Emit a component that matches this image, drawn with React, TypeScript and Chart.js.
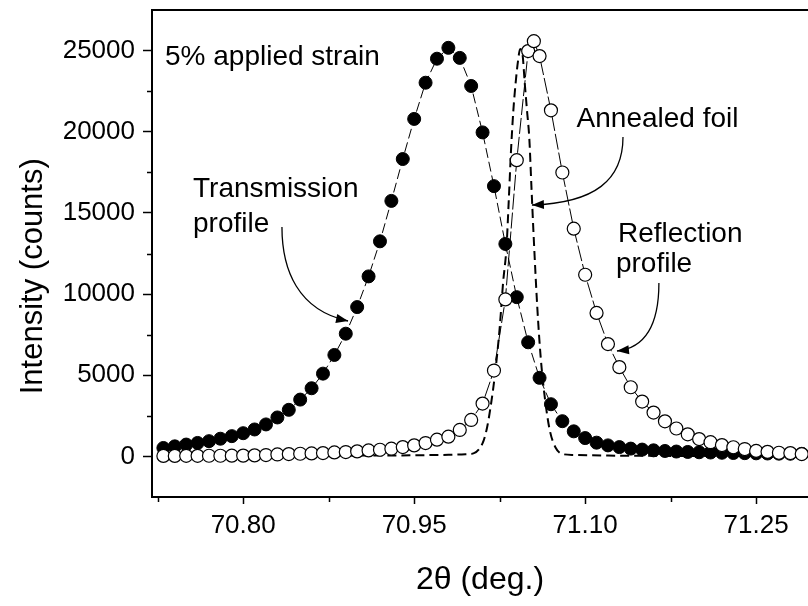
import React, { useEffect, useRef } from "react";
import { Chart, registerables } from "chart.js";
Chart.register(...registerables);

// Transmission profile (filled circles)
const transX = [
  70.73, 70.74, 70.75, 70.76, 70.77, 70.78, 70.79,
  70.80, 70.81, 70.82, 70.83, 70.84, 70.85, 70.86, 70.87, 70.88, 70.89,
  70.90, 70.91, 70.92, 70.93, 70.94, 70.95, 70.96, 70.97, 70.98, 70.99,
  71.00, 71.01, 71.02, 71.03, 71.04, 71.05, 71.06, 71.07, 71.08, 71.09,
  71.10, 71.11, 71.12, 71.13, 71.14, 71.15, 71.16, 71.17, 71.18, 71.19,
  71.20, 71.21, 71.22, 71.23, 71.24, 71.25, 71.26, 71.27, 71.28, 71.29,
];
const transY = [
  520, 620, 730, 830, 940, 1090, 1250,
  1430, 1660, 1970, 2400, 2870, 3500, 4200, 5100, 6250, 7560,
  9200, 11090, 13250, 15740, 18320, 20790, 23020, 24500, 25170, 24550,
  22820, 19960, 16650, 13090, 9810, 7030, 4840, 3215, 2170, 1545,
  1130, 847, 680, 575, 480, 420, 375, 335, 300, 275,
  255, 240, 225, 210, 200, 190, 180, 170, 165, 160,
];

// Reflection profile (open circles)
const reflX = [
  70.73, 70.74, 70.75, 70.76, 70.77, 70.78, 70.79,
  70.80, 70.81, 70.82, 70.83, 70.84, 70.85, 70.86, 70.87, 70.88, 70.89,
  70.90, 70.91, 70.92, 70.93, 70.94, 70.95, 70.96, 70.97, 70.98, 70.99,
  71.00, 71.01, 71.02, 71.03, 71.04, 71.05, 71.055, 71.06, 71.07, 71.08, 71.09,
  71.10, 71.11, 71.12, 71.13, 71.14, 71.15, 71.16, 71.17, 71.18, 71.19,
  71.20, 71.21, 71.22, 71.23, 71.24, 71.25, 71.26, 71.27, 71.28, 71.29,
];
const reflY = [
  30, 30, 35, 35, 40, 40, 45,
  50, 65, 85, 120, 145, 165, 185, 206, 247, 270,
  310, 370, 410, 475, 577, 680, 824, 1030, 1215, 1630,
  2245, 3256, 5290, 9670, 18250, 24970, 25580, 24660, 21320, 17490, 14030,
  11190, 8840, 6920, 5500, 4260, 3380, 2700, 2160, 1720, 1360,
  1070, 875, 700, 565, 455, 340, 280, 225, 205, 145,
];

// Annealed foil (dashed curve)
const annealX = [
  70.73, 70.80, 70.88, 70.95, 70.98, 70.995, 71.002, 71.007, 71.011, 71.014,
  71.017, 71.021, 71.025, 71.028, 71.031, 71.033, 71.035, 71.037, 71.039, 71.041,
  71.043, 71.045, 71.047, 71.049, 71.051, 71.053, 71.055, 71.058, 71.061, 71.065,
  71.069, 71.074, 71.08, 71.09, 71.12, 71.20, 71.29,
];
const annealY = [
  20, 30, 45, 70, 100, 130, 185, 450, 990, 1800,
  3030, 5130, 7900, 10700, 12900, 15800, 18900, 21300, 23000, 24300,
  25100, 24800, 23000, 21300, 19600, 16400, 13300, 9200, 6100, 3400,
  1600, 550, 150, 90, 50, 30, 20,
];

const xTicks = [70.8, 70.95, 71.1, 71.25];
const xMinorTicks = [70.725, 70.875, 71.025, 71.175];
const yTicks = [0, 5000, 10000, 15000, 20000, 25000];
const yMinorTicks = [2500, 7500, 12500, 17500, 22500];

const FONT = "'Liberation Sans', Arial, Helvetica, sans-serif";
const Y_TITLE = "Intensity (counts)";
const X_TITLE = "2θ (deg.)";

// annotations in data coordinates
const texts = [
  { t: "5% applied strain", x: 70.7314, y: 24112 },
  { t: "Transmission", x: 70.756, y: 15981 },
  { t: "profile", x: 70.756, y: 13825 },
  { t: "Annealed foil", x: 71.0925, y: 20311 },
  { t: "Reflection", x: 71.1288, y: 13227 },
  { t: "profile", x: 71.127, y: 11380 },
];
const arrows = [
  { p: [[70.834, 14133], [70.834, 11500], [70.848, 9000], [70.892, 8342]] },
  { p: [[71.1332, 19677], [71.1332, 17028], [71.1086, 15611], [71.0533, 15488]] },
  { p: [[71.1647, 10683], [71.1647, 8096], [71.1525, 6679], [71.1279, 6494]] },
];

const decorPlugin = {
  id: "decor",
  afterDraw(chart: any) {
    const { ctx, chartArea, scales } = chart;
    const sx = scales.x, sy = scales.y;
    ctx.save();
    ctx.strokeStyle = "#000";
    ctx.fillStyle = "#000";
    // top frame line
    ctx.lineWidth = 2;
    ctx.beginPath();
    ctx.moveTo(chartArea.left - 1, chartArea.top);
    ctx.lineTo(chartArea.right, chartArea.top);
    ctx.stroke();
    // minor ticks
    ctx.lineWidth = 1.5;
    ctx.beginPath();
    for (const v of xMinorTicks) {
      const px = Math.round(sx.getPixelForValue(v)) + 0.5;
      ctx.moveTo(px, chartArea.bottom);
      ctx.lineTo(px, chartArea.bottom + 5);
    }
    for (const v of yMinorTicks) {
      const py = Math.round(sy.getPixelForValue(v)) + 0.5;
      ctx.moveTo(chartArea.left, py);
      ctx.lineTo(chartArea.left - 5, py);
    }
    ctx.stroke();
    // y axis title
    ctx.save();
    ctx.font = `31px ${FONT}`;
    ctx.textAlign = "center";
    ctx.textBaseline = "middle";
    ctx.translate(33, sy.getPixelForValue(11100));
    ctx.rotate(-Math.PI / 2);
    ctx.fillText(Y_TITLE, 0, 0);
    ctx.restore();
    // texts
    ctx.font = `28px ${FONT}`;
    ctx.textBaseline = "alphabetic";
    ctx.textAlign = "left";
    for (const a of texts) {
      ctx.fillText(a.t, sx.getPixelForValue(a.x), sy.getPixelForValue(a.y));
    }
    // arrows
    ctx.lineWidth = 1.3;
    for (const a of arrows) {
      const pts = a.p.map(([x, y]) => [sx.getPixelForValue(x), sy.getPixelForValue(y)]);
      ctx.beginPath();
      ctx.moveTo(pts[0][0], pts[0][1]);
      ctx.bezierCurveTo(pts[1][0], pts[1][1], pts[2][0], pts[2][1], pts[3][0], pts[3][1]);
      ctx.stroke();
      const [ex, ey] = pts[3];
      const [cx, cy] = pts[2];
      const ang = Math.atan2(ey - cy, ex - cx);
      const L = 12, W = 4.5;
      ctx.beginPath();
      ctx.moveTo(ex, ey);
      ctx.lineTo(ex - L * Math.cos(ang) + W * Math.sin(ang), ey - L * Math.sin(ang) - W * Math.cos(ang));
      ctx.lineTo(ex - L * Math.cos(ang) - W * Math.sin(ang), ey - L * Math.sin(ang) + W * Math.cos(ang));
      ctx.closePath();
      ctx.fill();
    }
    ctx.restore();
  },
};

export default function App() {
  const ref = useRef<HTMLCanvasElement>(null);
  useEffect(() => {
    const tickFont = { family: FONT, size: 26 };
    const titleFont = { family: FONT, size: 32 };
    const chart = new Chart(ref.current as HTMLCanvasElement, {
      type: "line",
      data: {
        datasets: [
          {
            label: "Reflection",
            data: reflX.map((x, i) => ({ x, y: reflY[i] })),
            borderColor: "#000",
            borderWidth: 1,
            borderDash: [16, 3],
            pointRadius: 6.5,
            pointBackgroundColor: "#fff",
            pointBorderColor: "#000",
            pointBorderWidth: 1.2,
            tension: 0,
          },
          {
            label: "Transmission",
            data: transX.map((x, i) => ({ x, y: transY[i] })),
            borderColor: "#000",
            borderWidth: 1,
            borderDash: [10, 4],
            pointRadius: 6.5,
            pointBackgroundColor: "#000",
            pointBorderColor: "#000",
            pointBorderWidth: 1,
            tension: 0,
          },
          {
            label: "Annealed foil",
            data: annealX.map((x, i) => ({ x, y: annealY[i] })),
            borderColor: "#000",
            borderWidth: 2,
            borderDash: [9, 5],
            pointRadius: 0,
            cubicInterpolationMode: "monotone",
          },
        ],
      },
      options: {
        responsive: false,
        animation: false,
        events: [],
        layout: { autoPadding: false, padding: { top: 10, left: 0, right: 0, bottom: 0 } },
        plugins: { legend: { display: false }, tooltip: { enabled: false } },
        scales: {
          x: {
            type: "linear",
            position: "bottom",
            min: 70.72,
            max: 71.2955,
            afterBuildTicks: (s: any) => {
              s.ticks = xTicks.map((v) => ({ value: v }));
            },
            afterFit: (s: any) => {
              s.height = 109;
              s.paddingLeft = 0;
              s.paddingRight = 0;
              s.paddingTop = 0;
              s.paddingBottom = 0;
            },
            ticks: {
              font: tickFont,
              color: "#000",
              padding: 6,
              maxRotation: 0,
              autoSkip: false,
              callback: (v: any) => Number(v).toFixed(2),
            },
            grid: {
              display: true,
              drawOnChartArea: false,
              drawTicks: true,
              tickLength: 7,
              tickColor: "#000",
              tickWidth: 1.5,
            },
            border: { display: true, color: "#000", width: 2 },
            title: {
              display: true,
              text: X_TITLE,
              font: titleFont,
              color: "#000",
              padding: { top: 0, bottom: 7 },
            },
          },
          y: {
            type: "linear",
            position: "left",
            min: -2500,
            max: 27500,
            afterBuildTicks: (s: any) => {
              s.ticks = yTicks.map((v) => ({ value: v }));
            },
            afterFit: (s: any) => {
              s.width = 152;
              s.paddingLeft = 0;
              s.paddingRight = 0;
              s.paddingTop = 0;
              s.paddingBottom = 0;
            },
            ticks: {
              font: tickFont,
              color: "#000",
              padding: 8,
              autoSkip: false,
              callback: (v: any) => String(v),
            },
            grid: {
              display: true,
              drawOnChartArea: false,
              drawTicks: true,
              tickLength: 9,
              tickColor: "#000",
              tickWidth: 1.5,
            },
            border: { display: true, color: "#000", width: 2 },
            title: { display: false },
          },
        },
      },
      plugins: [decorPlugin],
    } as any);
    return () => chart.destroy();
  }, []);
  return (
    <div style={{ position: "fixed", left: 0, top: 0, width: 808, height: 606, background: "#fff" }}>
      <canvas ref={ref} width={808} height={606} style={{ display: "block", width: 808, height: 606 }} />
    </div>
  );
}
